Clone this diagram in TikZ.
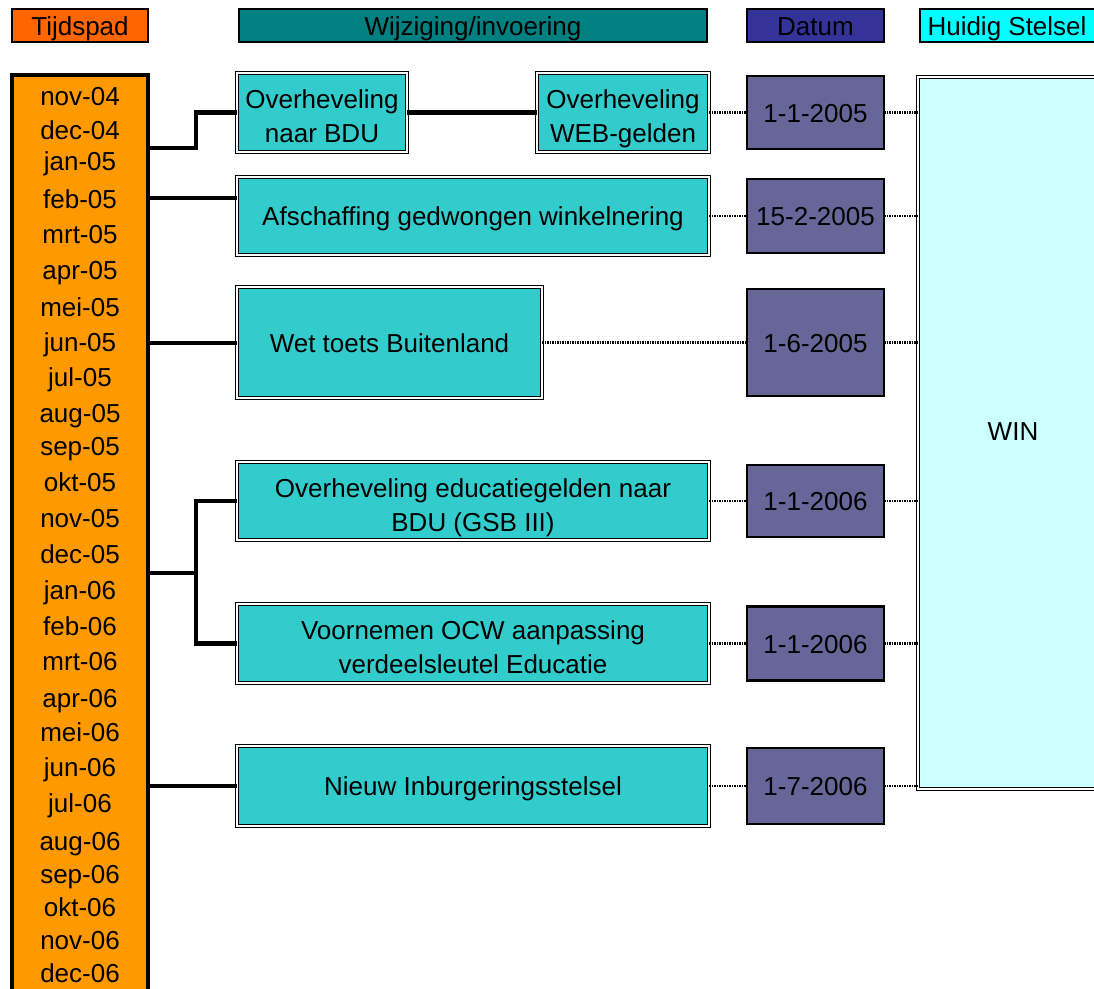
\documentclass[tikz,border=0pt]{standalone}
\usepackage{fontspec}
\setmainfont{Liberation Sans}
\definecolor{hdOrange}{HTML}{FF6600}
\definecolor{hdTeal}{HTML}{008080}
\definecolor{hdBlue}{HTML}{333399}
\definecolor{hdCyan}{HTML}{00FFFF}
\definecolor{tlOrange}{HTML}{FF9900}
\definecolor{boxCyan}{HTML}{33CCCC}
\definecolor{boxDate}{HTML}{666699}
\definecolor{boxWin}{HTML}{CCFFFF}
\newcommand\ms{\rule[-6pt]{0pt}{31pt}}
\newcommand\mt{\rule[-6pt]{0pt}{38pt}}
\begin{document}
\begin{tikzpicture}[x=1pt,y=-1pt,
  every node/.style={font=\fontsize{26}{34}\selectfont, inner sep=0pt, outer sep=0pt, execute at begin node=\ms},
  hdbox/.style={draw=black, line width=2.5pt, minimum height=33},
  tlbox/.style={draw=black, fill=tlOrange, line width=4pt},
  cbox/.style={draw=black, fill=boxCyan, double=white, double distance=1.2pt, line width=1.4pt, align=center},
  dbox/.style={draw=black, fill=boxDate, line width=2.8pt, minimum width=137},
  wbox/.style={draw=black, fill=boxWin, double=white, double distance=1.2pt, line width=1.4pt},
  conn/.style={line width=4.5pt},
  dotc/.style={line width=2.2pt, dash pattern=on 1.5pt off 1pt}]
\useasboundingbox (0,0) rectangle (1094,988);
\clip (0,0) rectangle (1094,988);
% headers
\node[hdbox, fill=hdOrange, minimum width=136] (h1) at (80,25.5) {Tijdspad};
\node[hdbox, fill=hdTeal, minimum width=468] (h2) at (473,25.5) {Wijziging/invoering};
\node[hdbox, fill=hdBlue, minimum width=137] (h3) at (815.5,25.5) {Datum};
\node[hdbox, fill=hdCyan, minimum width=190] (h4) at (1015,25.5) {};
\node (h4t) at (1007,25.5) {Huidig Stelsel};
% timeline
\node[tlbox, minimum width=136, minimum height=940] (tl) at (80,545) {};
\foreach \i/\yy/\lab in {1/96/nov-04,2/130/dec-04,3/161/jan-05,4/199/feb-05,5/234/mrt-05,6/270/apr-05,7/307/mei-05,8/342/jun-05,9/377/jul-05,10/413/aug-05,11/446/sep-05,12/482/okt-05,13/518/nov-05,14/554/dec-05,15/590/jan-06,16/626/feb-06,17/661/mrt-06,18/698/apr-06,19/732/mei-06,20/767/jun-06,21/803/jul-06,22/841/aug-06,23/874/sep-06,24/907/okt-06,25/940/nov-06,26/973/dec-06}
  \node (m\i) at (80,\yy) {\lab};
% change boxes
\node[cbox, minimum width=170, minimum height=79] (b1) at (322,112.5) {\mt Overheveling\\\ms naar BDU};
\node[cbox, minimum width=172, minimum height=79] (b2) at (623,112.5) {\mt Overheveling\\\ms WEB-gelden};
\node[cbox, minimum width=472, minimum height=78] (b3) at (473,216) {Afschaffing gedwongen winkelnering};
\node[cbox, minimum width=305, minimum height=111] (b4) at (389.5,342.5) {Wet toets Buitenland};
\node[cbox, minimum width=472, minimum height=78] (b5) at (473,501) {\mt Overheveling educatiegelden naar\\\ms BDU (GSB III)};
\node[cbox, minimum width=472, minimum height=79] (b6) at (473,643.5) {\mt Voornemen OCW aanpassing\\\ms verdeelsleutel Educatie};
\node[cbox, minimum width=472, minimum height=80] (b7) at (473,786) {Nieuw Inburgeringsstelsel};
% date boxes
\node[dbox, minimum height=73] (d1) at (815.5,112.5) {1-1-2005};
\node[dbox, minimum height=74] (d2) at (815.5,216) {15-2-2005};
\node[dbox, minimum height=107] (d3) at (815.5,342.5) {1-6-2005};
\node[dbox, minimum height=72] (d4) at (815.5,501) {1-1-2006};
\node[dbox, minimum height=74] (d5) at (815.5,643.5) {1-1-2006};
\node[dbox, minimum height=76] (d6) at (815.5,786) {1-7-2006};
% WIN
\node[wbox, minimum width=194, minimum height=712] (win) at (1015,433) {};
\node (wint) at (1013,431) {WIN};
% thick connectors
\draw[conn] (tl.east |- 0,148) -- (196,148) |- (b1.west);
\draw[conn] (b1.east) -- (b2.west);
\draw[conn] (tl.east |- 0,198) -- (b3.west |- 0,198);
\draw[conn] (tl.east |- 0,343) -- (b4.west |- 0,343);
\draw[conn] (tl.east |- 0,573) -- (196,573);
\draw[conn] (b5.west) -| (196,573) |- (b6.west);
\draw[conn] (tl.east |- 0,786) -- (b7.west);
% dotted connectors
\draw[dotc] (b2.east) -- (d1.west);
\draw[dotc] (b3.east) -- (d2.west);
\draw[dotc] (b4.east) -- (d3.west);
\draw[dotc] (b5.east) -- (d4.west);
\draw[dotc] (b6.east) -- (d5.west);
\draw[dotc] (b7.east) -- (d6.west);
\draw[dotc] (d1.east) -- (win.west |- d1.east);
\draw[dotc] (d2.east) -- (win.west |- d2.east);
\draw[dotc] (d3.east) -- (win.west |- d3.east);
\draw[dotc] (d4.east) -- (win.west |- d4.east);
\draw[dotc] (d5.east) -- (win.west |- d5.east);
\draw[dotc] (d6.east) -- (win.west |- d6.east);
\end{tikzpicture}
\end{document}
